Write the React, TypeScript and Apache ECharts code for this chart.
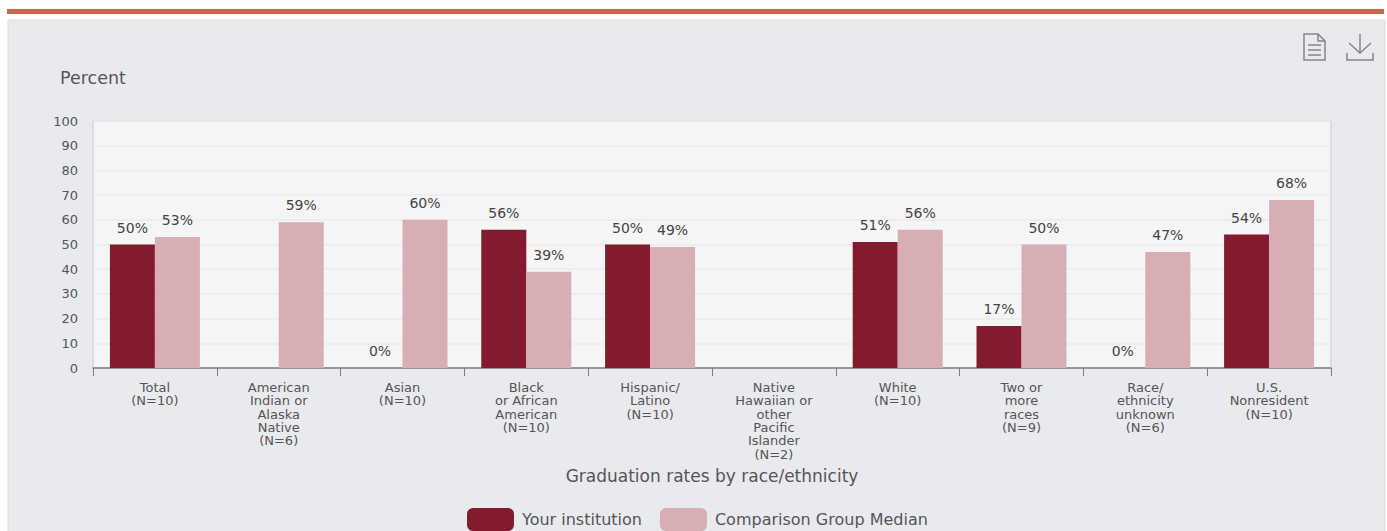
import React, { useEffect, useRef } from "react";
import * as echarts from "echarts";

const categories = [
  "Total\n(N=10)",
  "American\nIndian or\nAlaska\nNative\n(N=6)",
  "Asian\n(N=10)",
  "Black\nor African\nAmerican\n(N=10)",
  "Hispanic/\nLatino\n(N=10)",
  "Native\nHawaiian or\nother\nPacific\nIslander\n(N=2)",
  "White\n(N=10)",
  "Two or\nmore\nraces\n(N=9)",
  "Race/\nethnicity\nunknown\n(N=6)",
  "U.S.\nNonresident\n(N=10)",
];
const yourInstitution = [50, null, 0, 56, 50, null, 51, 17, 0, 54];
const comparisonMedian = [53, 59, 60, 39, 49, null, 56, 50, 47, 68];

const FONT = '"DejaVu Sans", Arial, sans-serif';

echarts.graphic.registerShape(
  "docIcon",
  echarts.graphic.extendPath("M0 0L14 0L21 7L21 26L0 26ZM14 0L14 7L21 7M4 11L17 11M4 16L17 16M4 21L17 21", {}) as any
);
echarts.graphic.registerShape(
  "downloadIcon",
  echarts.graphic.extendPath("M13 0L13 18M2 9L13 19L24 9M0 19L0 26L26 26L26 19", {}) as any
);

export default function App() {
  const ref = useRef<HTMLDivElement>(null);
  useEffect(() => {
    const chart = echarts.init(ref.current!, undefined, { renderer: "svg" });
    const label = {
      show: true,
      position: "top" as const,
      distance: 10,
      formatter: "{c}%",
      color: "#444",
      fontFamily: FONT,
      fontSize: 14,
    };
    chart.setOption({
      animation: false,
      backgroundColor: "#ffffff",
      textStyle: { fontFamily: FONT },
      title: {
        text: "Percent",
        left: 55,
        top: 64,
        textStyle: { color: "#555", fontSize: 17.5, fontWeight: "normal", fontFamily: FONT },
      },
      grid: {
        left: 93,
        right: 56,
        top: 121,
        bottom: 163,
        show: true,
        backgroundColor: "#f5f5f6",
        borderColor: "#dcdde2",
        borderWidth: 2,
      },
      legend: {
        left: 462,
        top: 503,
        itemWidth: 47,
        itemHeight: 23,
        itemGap: 18,
        icon: "roundRect",
        textStyle: { color: "#555", fontSize: 16, fontFamily: FONT, padding: [0, 0, 0, 3] },
        data: ["Your institution", "Comparison Group Median"],
      },
      xAxis: {
        type: "category",
        data: categories,
        name: "Graduation rates by race/ethnicity",
        nameLocation: "middle",
        nameGap: 99,
        nameTextStyle: { color: "#555", fontSize: 17, fontFamily: FONT },
        axisLine: { show: true, lineStyle: { color: "#7c7c7c", width: 1.5 } },
        axisTick: { show: true, length: 8, lineStyle: { color: "#7c7c7c" } },
        axisLabel: {
          interval: 0,
          color: "#555",
          fontSize: 13,
          lineHeight: 13.3,
          margin: 13,
          fontFamily: FONT,
        },
      },
      yAxis: {
        type: "value",
        min: 0,
        max: 100,
        interval: 10,
        axisLine: { show: false },
        axisTick: { show: false },
        axisLabel: { color: "#555", fontSize: 13, margin: 15, fontFamily: FONT },
        splitLine: { lineStyle: { color: "#e9eaf0", width: 1.5 } },
      },
      series: [
        {
          name: "Your institution",
          type: "bar",
          data: yourInstitution,
          barWidth: 45,
          barGap: 0,
          itemStyle: { color: "#831a2e" },
          label,
        },
        {
          name: "Comparison Group Median",
          type: "bar",
          data: comparisonMedian,
          barWidth: 45,
          itemStyle: { color: "#d8aeb5" },
          label,
        },
      ],
      graphic: [
        { type: "rect", z: -10, shape: { x: 8, y: 20, width: 1377, height: 520 }, style: { fill: "#e9eaee", stroke: "#d8dbd8", lineWidth: 1 } },
        { type: "rect", z: 10, shape: { x: 7, y: 9, width: 1377, height: 5 }, style: { fill: "#c8684a" } },
        { type: "docIcon", z: 10, x: 1304, y: 34, style: { fill: "none", stroke: "#85878c", lineWidth: 1.5 } },
        { type: "downloadIcon", z: 10, x: 1347, y: 34, style: { fill: "none", stroke: "#85878c", lineWidth: 1.5 } },
      ],
    });
    return () => chart.dispose();
  }, []);
  return <div ref={ref} style={{ position: "absolute", left: 0, top: 0, width: 1387, height: 531 }} />;
}
